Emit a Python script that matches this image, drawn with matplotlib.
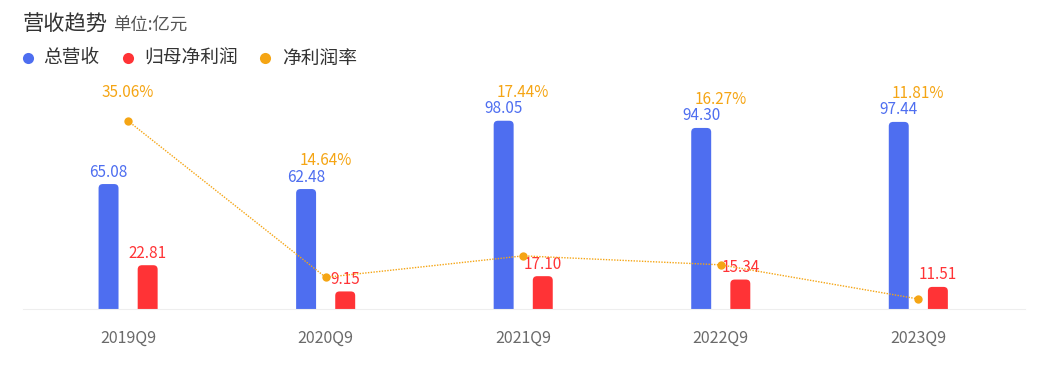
import matplotlib
matplotlib.use("Agg")
import matplotlib.pyplot as plt
from matplotlib.patches import FancyBboxPatch
from matplotlib.lines import Line2D
import numpy as np

plt.rcParams['font.family'] = ['Noto Sans CJK SC', 'DejaVu Sans']

# data
periods = ["2019Q9", "2020Q9", "2021Q9", "2022Q9", "2023Q9"]
revenue = [65.08, 62.48, 98.05, 94.30, 97.44]
net_profit = [22.81, 9.15, 17.10, 15.34, 11.51]
net_margin = [35.06, 14.64, 17.44, 16.27, 11.81]

BLUE = "#4e6ef0"
RED = "#ff3336"
ORANGE = "#f5a514"

W, H = 1037, 377
fig = plt.figure(figsize=(W / 100, H / 100), dpi=100)
ax = fig.add_axes([23 / W, 1 - 309 / H, (1025 - 23) / W, (309 - 100) / H])
ax2 = ax.twinx()
ax2.set_position(ax.get_position())

x = np.arange(len(periods))
bw = 0.101
off = 0.099

ax.set_xlim(-0.532, 4.54)
ax.set_ylim(0, 108.85)
ax2.set_ylim(10.5, 37.8)


def rounded_bars(xs, vals, color):
    bars = ax.bar(xs, vals, width=bw, color=color)
    rx = 0.022
    ry = 2.2
    for b in bars:
        b.set_visible(False)
        p = FancyBboxPatch((b.get_x(), -ry), b.get_width(), b.get_height() + ry,
                           boxstyle=f"round,pad=0,rounding_size={rx}",
                           mutation_aspect=ry / rx, fc=color, ec="none")
        ax.add_patch(p)
    return bars


rounded_bars(x - off, revenue, BLUE)
rounded_bars(x + off, net_profit, RED)

for xi, v in zip(x, revenue):
    ax.annotate(f"{v:.2f}", (xi - off, v), xytext=(0, 2.5), textcoords="offset points",
                ha="center", va="bottom", color=BLUE, fontsize=11)
for xi, v in zip(x, net_profit):
    ax.annotate(f"{v:.2f}", (xi + off, v), xytext=(0, 2.5), textcoords="offset points",
                ha="center", va="bottom", color=RED, fontsize=11)

ax2.plot(x, net_margin, color=ORANGE, lw=1, ls=(0, (1, 1)), marker="o",
         markersize=6, markeredgewidth=0, zorder=5)

# margin labels sit above whichever is higher: the point or the revenue bar
for xi, r, v in zip(x, net_margin, revenue):
    py = ax2.transData.transform((xi, r))[1]
    by = ax.transData.transform((xi - off, v))[1]
    top = max(py, by)
    px = ax.transData.transform((xi, 0))[0]
    ax.annotate(f"{r:.2f}%", (px, top), xycoords="figure pixels", xytext=(0, 20.5),
                textcoords="offset points", ha="center", va="center",
                color=ORANGE, fontsize=11, annotation_clip=False)

for a in (ax, ax2):
    for s in a.spines.values():
        s.set_visible(False)
    a.set_yticks([])
ax.spines["bottom"].set_visible(True)
ax.spines["bottom"].set_color("#eeeeee")
ax.set_xticks(x)
ax.set_xticklabels(periods, color="#6a6a6a", fontsize=11.5)
ax.tick_params(axis="x", length=0, pad=15)

# title
fig.text(23 / W, 1 - 25 / H, "营收趋势", fontsize=15.3, color="#333333", va="center")
fig.text(113 / W, 1 - 26 / H, "单位:亿元", fontsize=12.5, color="#555555", va="center")

# legend
legend_items = [("总营收", BLUE, 28, 43), ("归母净利润", RED, 128, 144), ("净利润率", ORANGE, 265, 282)]
for label, c, px, tx in legend_items:
    fig.add_artist(Line2D([px / W], [1 - 58 / H], marker="o", color=c, markersize=8,
                          markeredgewidth=0, transform=fig.transFigure))
    fig.text(tx / W, 1 - 58 / H, label, fontsize=13.5, color="#333333", va="center")

fig.savefig("out.png", dpi=100)
